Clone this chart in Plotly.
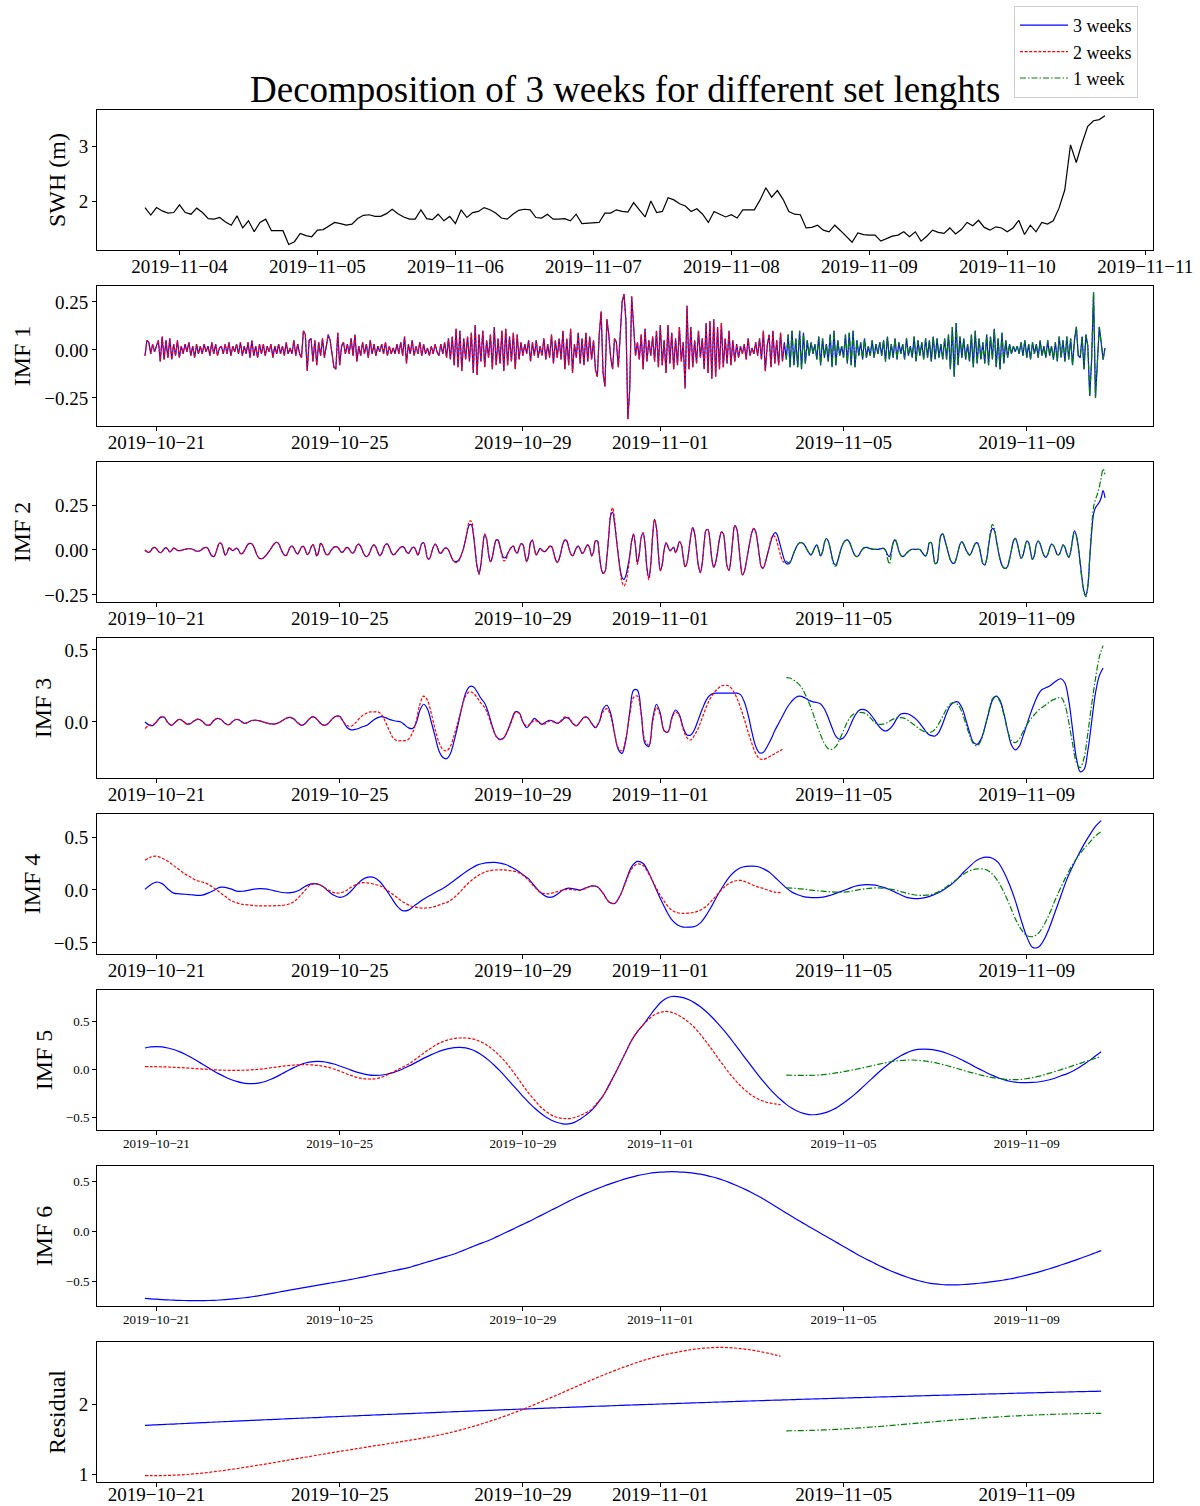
import pandas as pd
import plotly.graph_objects as go
from plotly.subplots import make_subplots

START_3W = "2019-10-20 18:00"
START_1W = "2019-11-03 18:00"

# ---------------- data ----------------
swh_1w = [
    1.88, 1.745, 1.88, 1.82, 1.78, 1.79, 1.93, 1.79, 1.76, 1.87, 1.79, 1.68,
    1.67, 1.70, 1.62, 1.56, 1.73, 1.51, 1.64, 1.44, 1.61, 1.67, 1.46, 1.46,
    1.46, 1.21, 1.26, 1.41, 1.37, 1.35, 1.47, 1.48, 1.55, 1.61, 1.59, 1.56,
    1.58, 1.68, 1.74, 1.75, 1.72, 1.72, 1.77, 1.85, 1.77, 1.71, 1.67, 1.67,
    1.84, 1.68, 1.66, 1.76, 1.64, 1.72, 1.59, 1.84, 1.70, 1.79, 1.81, 1.88,
    1.84, 1.78, 1.69, 1.67, 1.76, 1.83, 1.85, 1.84, 1.70, 1.69, 1.76, 1.67,
    1.67, 1.68, 1.64, 1.76, 1.59, 1.60, 1.61, 1.61, 1.78, 1.78, 1.84, 1.81,
    1.80, 1.97, 1.84, 1.71, 2.00, 1.79, 1.81, 2.06, 2.02, 1.95, 1.91, 1.81,
    1.86, 1.76, 1.61, 1.81, 1.76, 1.71, 1.75, 1.69, 1.84, 1.84, 1.84, 2.02,
    2.24, 2.07, 2.19, 2.03, 1.81, 1.76, 1.75, 1.51, 1.52, 1.56, 1.47, 1.44,
    1.56, 1.46, 1.36, 1.25, 1.42, 1.39, 1.38, 1.38, 1.27, 1.32, 1.36, 1.38,
    1.44, 1.35, 1.44, 1.27, 1.36, 1.47, 1.43, 1.41, 1.51, 1.40, 1.48, 1.61,
    1.55, 1.65, 1.52, 1.47, 1.53, 1.51, 1.44, 1.51, 1.65, 1.39, 1.56, 1.44,
    1.61, 1.58, 1.64, 1.87, 2.20, 3.02, 2.70, 3.05, 3.36, 3.46, 3.48, 3.55,
]

# IMF 1, hourly
imf1_3w = [
    -0.03, 0.05, 0.04, -0.02, 0.03, -0.01, 0.02, 0.05, -0.06, 0.07, -0.05, 0.05,
    -0.04, 0.06, -0.05, 0.03, -0.03, 0.05, -0.04, 0.02, -0.02, 0.03, -0.01, 0.04,
    -0.03, 0.02, -0.04, 0.03, -0.02, 0.02, -0.02, 0.03, -0.01, 0.02, -0.03, 0.04,
    -0.02, 0.03, -0.03, 0.01, 0.02, -0.02, 0.03, -0.02, 0.04, -0.03, 0.02, -0.01,
    0.03, -0.02, 0.04, -0.03, 0.02, -0.02, 0.04, -0.04, 0.05, -0.03, 0.02, -0.04,
    0.03, -0.02, 0.03, -0.03, 0.02, -0.01, 0.03, -0.04, 0.02, -0.02, 0.03, -0.02,
    0.02, -0.03, 0.04, -0.02, 0.01, -0.02, 0.05, -0.03, 0.03, -0.02, -0.04, 0.10,
    0.08, -0.11, 0.05, 0.06, -0.06, 0.05, -0.08, 0.04, -0.03, 0.06, -0.04, 0.03,
    0.08, 0.05, -0.03, -0.09, -0.10, 0.09, -0.08, 0.02, 0.04, -0.02, 0.03, -0.02,
    0.06, -0.03, 0.08, -0.06, 0.02, -0.03, 0.04, -0.02, 0.03, -0.04, 0.05, -0.02,
    0.03, -0.03, 0.02, -0.01, 0.03, -0.02, 0.04, -0.03, 0.02, -0.02, 0.01, -0.02,
    0.03, -0.02, 0.04, -0.03, 0.07, -0.07, 0.03, -0.02, 0.05, -0.03, 0.02, -0.02,
    0.04, -0.03, 0.03, -0.02, 0.01, -0.03, 0.02, -0.02, 0.03, -0.01, -0.03, 0.03,
    -0.02, 0.04, -0.04, 0.06, -0.05, 0.07, -0.08, 0.11, -0.09, 0.10, -0.11, 0.06,
    -0.05, 0.07, -0.06, 0.09, -0.12, 0.13, -0.13, 0.08, -0.06, 0.10, -0.09, 0.05,
    -0.04, 0.08, -0.10, 0.12, -0.08, 0.06, -0.07, 0.10, -0.11, 0.11, -0.08, 0.07,
    -0.06, 0.09, -0.10, 0.08, -0.05, 0.04, -0.03, 0.03, -0.02, 0.05, -0.06, 0.04,
    -0.03, 0.05, -0.04, 0.02, -0.03, 0.06, -0.05, 0.03, -0.04, 0.08, -0.07, 0.05,
    -0.04, 0.06, -0.05, 0.10, -0.10, 0.06, -0.08, 0.11, -0.12, 0.03, -0.04, 0.09,
    -0.07, 0.06, -0.08, 0.09, -0.06, 0.07, -0.05, 0.05, -0.10, -0.14, 0.08, 0.20,
    -0.12, -0.19, 0.16, 0.08, -0.04, -0.10, 0.06, 0.04, -0.09, 0.10, 0.25, 0.29,
    0.15, -0.36, -0.20, 0.28, 0.12, -0.03, 0.04, -0.05, 0.08, -0.10, 0.11, -0.06,
    0.05, -0.03, 0.07, -0.06, 0.10, -0.09, 0.13, -0.08, 0.05, -0.12, 0.13, -0.07,
    0.09, -0.10, 0.06, -0.08, 0.12, -0.06, 0.04, -0.20, 0.23, -0.10, 0.12, -0.09,
    0.05, -0.07, 0.10, -0.04, 0.06, -0.10, 0.14, -0.12, 0.15, -0.15, 0.16, -0.14,
    0.12, -0.10, 0.14, -0.09, 0.06, -0.07, 0.10, -0.08, 0.05, -0.06, 0.03, -0.04,
    0.02, -0.02, 0.03, -0.05, 0.06, -0.03, 0.01, -0.02, 0.04, -0.03, 0.06, -0.05,
    0.10, -0.11, 0.02, 0.08, -0.09, 0.10, -0.07, 0.05, -0.08, 0.09, -0.06, 0.04,
    -0.05, 0.08, -0.09, 0.10, -0.08, 0.06, -0.09, 0.10, -0.10, 0.09, -0.07, 0.05,
    -0.03, 0.04, -0.02, 0.03, -0.05, 0.07, -0.08, 0.06, -0.04, 0.03, -0.06, 0.08,
    -0.09, 0.10, -0.08, 0.05, -0.03, 0.02, -0.04, 0.08, -0.07, 0.09, -0.08, 0.10,
    -0.09, 0.05, -0.03, 0.04, -0.05, 0.06, -0.04, 0.02, -0.03, 0.05, -0.04, 0.03,
    -0.02, 0.04, -0.03, 0.05, -0.06, 0.07, -0.05, 0.03, -0.04, 0.06, -0.05, 0.04,
    -0.02, 0.03, -0.05, 0.06, -0.03, 0.02, -0.04, 0.07, -0.06, 0.05, -0.03, 0.04,
    -0.05, 0.06, -0.04, 0.05, -0.06, 0.07, -0.05, 0.06, -0.04, 0.03, -0.05, 0.06,
    -0.05, 0.08, -0.10, 0.12, -0.14, 0.14, -0.08, 0.07, -0.04, 0.06, -0.05, 0.03,
    -0.06, 0.08, -0.09, 0.10, -0.07, 0.06, -0.05, 0.04, -0.07, 0.08, -0.08, 0.07,
    -0.05, 0.11, -0.09, 0.06, -0.10, 0.09, -0.07, 0.05, -0.04, 0.03, -0.02, 0.02,
    -0.01, 0.02, -0.02, 0.04, -0.03, 0.05, -0.04, 0.03, -0.05, 0.04, -0.02, 0.03,
    -0.04, 0.05, -0.03, 0.02, -0.04, 0.05, -0.03, 0.02, -0.05, 0.04, -0.06, 0.07,
    -0.04, 0.05, -0.06, 0.07, -0.05, 0.06, -0.08, 0.05, 0.12, -0.03, -0.04, 0.07,
    -0.10, 0.08, 0.02, -0.24, -0.05, 0.30, -0.25, -0.08, 0.12, 0.04, -0.05, 0.01,
]
imf1_2w = [
    -0.03, 0.05, 0.04, -0.02, 0.03, -0.01, 0.02, 0.05, -0.06, 0.07, -0.05, 0.05,
    -0.04, 0.06, -0.05, 0.03, -0.03, 0.05, -0.04, 0.02, -0.02, 0.03, -0.01, 0.04,
    -0.03, 0.02, -0.04, 0.03, -0.02, 0.02, -0.02, 0.03, -0.01, 0.02, -0.03, 0.04,
    -0.02, 0.03, -0.03, 0.01, 0.02, -0.02, 0.03, -0.02, 0.04, -0.03, 0.02, -0.01,
    0.03, -0.02, 0.04, -0.03, 0.02, -0.02, 0.04, -0.04, 0.05, -0.03, 0.02, -0.04,
    0.03, -0.02, 0.03, -0.03, 0.02, -0.01, 0.03, -0.04, 0.02, -0.02, 0.03, -0.02,
    0.02, -0.03, 0.04, -0.02, 0.01, -0.02, 0.05, -0.03, 0.03, -0.02, -0.04, 0.10,
    0.08, -0.11, 0.05, 0.06, -0.06, 0.05, -0.08, 0.04, -0.03, 0.06, -0.04, 0.03,
    0.08, 0.05, -0.03, -0.09, -0.10, 0.09, -0.08, 0.02, 0.04, -0.02, 0.03, -0.02,
    0.06, -0.03, 0.08, -0.06, 0.02, -0.03, 0.04, -0.02, 0.03, -0.04, 0.05, -0.02,
    0.03, -0.03, 0.02, -0.01, 0.03, -0.02, 0.04, -0.03, 0.02, -0.02, 0.01, -0.02,
    0.03, -0.02, 0.04, -0.03, 0.07, -0.07, 0.03, -0.02, 0.05, -0.03, 0.02, -0.02,
    0.04, -0.03, 0.03, -0.02, 0.01, -0.03, 0.02, -0.02, 0.03, -0.01, -0.03, 0.03,
    -0.02, 0.04, -0.04, 0.06, -0.05, 0.07, -0.08, 0.11, -0.09, 0.10, -0.11, 0.06,
    -0.05, 0.07, -0.06, 0.09, -0.12, 0.13, -0.13, 0.08, -0.06, 0.10, -0.09, 0.05,
    -0.04, 0.08, -0.10, 0.12, -0.08, 0.06, -0.07, 0.10, -0.11, 0.11, -0.08, 0.07,
    -0.06, 0.09, -0.10, 0.08, -0.05, 0.04, -0.03, 0.03, -0.02, 0.05, -0.06, 0.04,
    -0.03, 0.05, -0.04, 0.02, -0.03, 0.06, -0.05, 0.03, -0.04, 0.08, -0.07, 0.05,
    -0.04, 0.06, -0.05, 0.10, -0.10, 0.06, -0.08, 0.11, -0.12, 0.03, -0.04, 0.09,
    -0.07, 0.06, -0.08, 0.09, -0.06, 0.07, -0.05, 0.05, -0.10, -0.14, 0.08, 0.20,
    -0.12, -0.19, 0.16, 0.08, -0.04, -0.10, 0.06, 0.04, -0.09, 0.10, 0.25, 0.29,
    0.15, -0.36, -0.20, 0.28, 0.12, -0.03, 0.04, -0.05, 0.08, -0.10, 0.11, -0.06,
    0.05, -0.03, 0.07, -0.06, 0.10, -0.09, 0.13, -0.08, 0.05, -0.12, 0.13, -0.07,
    0.09, -0.10, 0.06, -0.08, 0.12, -0.06, 0.04, -0.20, 0.23, -0.10, 0.12, -0.09,
    0.05, -0.07, 0.10, -0.04, 0.06, -0.10, 0.14, -0.12, 0.15, -0.15, 0.16, -0.14,
    0.12, -0.10, 0.14, -0.09, 0.06, -0.07, 0.10, -0.08, 0.05, -0.06, 0.03, -0.04,
    0.02, -0.02, 0.03, -0.05, 0.06, -0.03, 0.01, -0.02, 0.04, -0.03, 0.06, -0.05,
    0.10, -0.11, 0.02, 0.08, -0.09, 0.10, -0.07, 0.05, -0.08, 0.09, -0.06, 0.04,
]
imf1_1w = [
    -0.05, 0.08, -0.09, 0.10, -0.08, 0.06, -0.09, 0.10, -0.10, 0.09, -0.07, 0.05,
    -0.03, 0.04, -0.02, 0.03, -0.05, 0.07, -0.08, 0.06, -0.04, 0.03, -0.06, 0.08,
    -0.09, 0.10, -0.08, 0.05, -0.03, 0.02, -0.04, 0.08, -0.07, 0.09, -0.08, 0.10,
    -0.09, 0.05, -0.03, 0.04, -0.05, 0.06, -0.04, 0.02, -0.03, 0.05, -0.04, 0.03,
    -0.02, 0.04, -0.03, 0.05, -0.06, 0.07, -0.05, 0.03, -0.04, 0.06, -0.05, 0.04,
    -0.02, 0.03, -0.05, 0.06, -0.03, 0.02, -0.04, 0.07, -0.06, 0.05, -0.03, 0.04,
    -0.05, 0.06, -0.04, 0.05, -0.06, 0.07, -0.05, 0.06, -0.04, 0.03, -0.05, 0.06,
    -0.05, 0.08, -0.10, 0.12, -0.14, 0.14, -0.08, 0.07, -0.04, 0.06, -0.05, 0.03,
    -0.06, 0.08, -0.09, 0.10, -0.07, 0.06, -0.05, 0.04, -0.07, 0.08, -0.08, 0.07,
    -0.05, 0.11, -0.09, 0.06, -0.10, 0.09, -0.07, 0.05, -0.04, 0.03, -0.02, 0.02,
    -0.01, 0.02, -0.02, 0.04, -0.03, 0.05, -0.04, 0.03, -0.05, 0.04, -0.02, 0.03,
    -0.04, 0.05, -0.03, 0.02, -0.04, 0.05, -0.03, 0.02, -0.05, 0.04, -0.06, 0.07,
    -0.04, 0.05, -0.06, 0.07, -0.05, 0.06, -0.08, 0.05, 0.12, -0.03, -0.04, 0.07,
    -0.10, 0.08, 0.02, -0.24, -0.05, 0.30, -0.25, -0.08, 0.12, 0.04, -0.05, 0.01,
]

# IMF 2, hourly
imf2_3w = [
    0.0, -0.01, -0.013, -0.005, 0.01, 0.015, 0.008, -0.008, -0.015, -0.008, 0.006, 0.013,
    0.003, -0.01, -0.002, 0.01, 0.006, -0.002, -0.004, -0.002, 0.001, 0.004, 0.006, 0.007,
    0.007, 0.004, -0.002, -0.006, -0.007, -0.003, 0.005, 0.012, 0.015, 0.008, -0.015, -0.032,
    -0.037, -0.02, 0.015, 0.038, 0.036, 0.005, -0.028, -0.015, 0.012, 0.005, -0.004, 0.004,
    0.01, 0.0, -0.02, -0.02, -0.005, 0.015, 0.032, 0.037, 0.034, 0.018, -0.01, -0.035,
    -0.047, -0.048, -0.044, -0.035, -0.022, -0.008, 0.008, 0.025, 0.038, 0.043, 0.035, 0.012,
    -0.012, -0.028, -0.031, -0.01, 0.014, 0.022, 0.01, -0.012, -0.022, -0.005, 0.016, 0.02,
    0.0, -0.026, -0.015, 0.015, 0.03, 0.005, -0.033, -0.01, 0.037, 0.025, -0.005, -0.025,
    -0.026, -0.01, 0.005, 0.016, 0.019, 0.015, 0.0, -0.013, -0.008, 0.008, 0.015, 0.005,
    -0.012, -0.018, -0.002, 0.025, 0.033, 0.02, -0.005, -0.028, -0.037, -0.03, -0.008, 0.018,
    0.028, 0.015, -0.012, -0.031, -0.02, 0.01, 0.03, 0.033, 0.015, -0.012, -0.026, -0.022,
    -0.008, 0.005, 0.015, 0.019, 0.01, -0.01, -0.019, -0.005, 0.012, 0.015, -0.005, -0.028,
    0.0, 0.035, 0.04, 0.005, -0.045, -0.05, -0.02, 0.015, 0.033, 0.02, -0.01, -0.019,
    -0.005, 0.01, 0.011, 0.0, -0.025, -0.05, -0.063, -0.065, -0.06, -0.045, -0.02, 0.015,
    0.06, 0.11, 0.14, 0.14, 0.09, 0.0, -0.09, -0.13, -0.08, 0.02, 0.085, 0.06,
    -0.02, -0.065, -0.04, 0.02, 0.055, 0.055, 0.02, -0.02, -0.043, -0.04, -0.02, 0.0,
    0.015, 0.022, -0.005, -0.018, 0.01, 0.035, 0.03, -0.02, -0.065, -0.03, 0.04, 0.055,
    0.01, -0.028, -0.01, 0.009, 0.0, -0.009, -0.005, 0.008, 0.02, 0.02, -0.01, -0.05,
    -0.07, -0.05, -0.01, 0.035, 0.056, 0.05, 0.015, -0.02, -0.033, -0.015, 0.012, 0.022,
    0.005, -0.019, -0.01, 0.015, 0.028, 0.01, -0.033, -0.01, 0.05, 0.05, -0.02, -0.1,
    -0.13, -0.12, -0.04, 0.08, 0.19, 0.21, 0.15, 0.06, -0.03, -0.11, -0.155, -0.163,
    -0.14, -0.09, -0.03, 0.05, 0.089, 0.02, -0.07, -0.02, 0.07, 0.095, 0.03, -0.1,
    -0.155, -0.08, 0.08, 0.17, 0.12, -0.02, -0.115, -0.08, 0.0, 0.04, 0.02, -0.004,
    0.005, 0.015, -0.015, 0.01, 0.046, 0.03, -0.04, -0.093, -0.07, 0.0, 0.08, 0.124,
    0.09, 0.0, -0.09, -0.126, -0.07, 0.04, 0.11, 0.113, 0.05, -0.05, -0.096, -0.07,
    -0.01, 0.06, 0.1, 0.09, 0.01, -0.09, -0.113, -0.05, 0.06, 0.135, 0.12, 0.04,
    -0.07, -0.139, -0.12, -0.07, -0.01, 0.05, 0.1, 0.12, 0.1, 0.04, -0.04, -0.095,
    -0.1, -0.07, -0.03, 0.01, 0.05, 0.08, 0.096, 0.09, 0.06, 0.02, -0.02, -0.055,
    -0.075, -0.078, -0.07, -0.045, -0.015, 0.01, 0.03, 0.04, 0.041, 0.035, 0.02, 0.0,
    -0.018, -0.028, -0.01, 0.015, 0.028, 0.0, -0.033, -0.01, 0.04, 0.064, 0.05, 0.01,
    -0.04, -0.075, -0.083, -0.06, -0.02, 0.015, 0.04, 0.053, 0.056, 0.045, 0.02, -0.01,
    -0.03, -0.037, -0.03, -0.01, 0.005, 0.013, 0.015, 0.012, 0.008, 0.005, 0.004, 0.004,
    0.004, 0.006, 0.008, 0.009, 0.0, -0.025, -0.037, -0.01, 0.04, 0.056, 0.035, -0.005,
    -0.03, -0.037, -0.03, -0.018, -0.008, 0.0, 0.004, 0.004, 0.004, 0.004, 0.003, -0.01,
    -0.025, -0.033, -0.01, 0.04, 0.04, -0.02, -0.075, -0.07, 0.01, 0.08, 0.09, 0.06,
    0.02, -0.02, -0.055, -0.072, -0.074, -0.05, -0.01, 0.03, 0.046, 0.03, 0.005, -0.015,
    -0.028, -0.015, 0.012, 0.035, 0.041, 0.02, -0.03, -0.075, -0.083, -0.05, 0.02, 0.09,
    0.12, 0.11, 0.06, 0.0, -0.05, -0.085, -0.1, -0.102, -0.09, -0.05, 0.0, 0.05,
    0.065, 0.04, -0.01, -0.046, -0.03, 0.015, 0.05, 0.04, -0.01, -0.052, -0.03, 0.03,
    0.05, 0.035, 0.0, -0.03, -0.041, -0.025, 0.01, 0.033, 0.025, 0.0, -0.025, -0.025,
    0.0, 0.028, 0.015, -0.02, -0.041, -0.01, 0.06, 0.107, 0.08, 0.02, -0.07, -0.16,
    -0.23, -0.25, -0.2, -0.05, 0.1, 0.2, 0.235, 0.25, 0.265, 0.29, 0.33, 0.29,
]
imf2_2w = [
    0.0, -0.01, -0.013, -0.005, 0.01, 0.015, 0.008, -0.008, -0.015, -0.008, 0.006, 0.013,
    0.003, -0.01, -0.002, 0.01, 0.006, -0.002, -0.004, -0.002, 0.001, 0.004, 0.006, 0.007,
    0.007, 0.004, -0.002, -0.006, -0.007, -0.003, 0.005, 0.012, 0.015, 0.008, -0.015, -0.032,
    -0.037, -0.02, 0.015, 0.038, 0.036, 0.005, -0.028, -0.015, 0.012, 0.005, -0.004, 0.004,
    0.01, 0.0, -0.02, -0.02, -0.005, 0.015, 0.032, 0.037, 0.034, 0.018, -0.01, -0.035,
    -0.047, -0.048, -0.044, -0.035, -0.022, -0.008, 0.008, 0.025, 0.038, 0.043, 0.035, 0.012,
    -0.012, -0.028, -0.031, -0.01, 0.014, 0.022, 0.01, -0.012, -0.022, -0.005, 0.016, 0.02,
    0.0, -0.026, -0.015, 0.015, 0.03, 0.005, -0.033, -0.01, 0.037, 0.025, -0.005, -0.025,
    -0.026, -0.01, 0.005, 0.016, 0.019, 0.015, 0.0, -0.013, -0.008, 0.008, 0.015, 0.005,
    -0.012, -0.018, -0.002, 0.025, 0.033, 0.02, -0.005, -0.028, -0.037, -0.03, -0.008, 0.018,
    0.028, 0.015, -0.012, -0.031, -0.02, 0.01, 0.03, 0.033, 0.015, -0.012, -0.026, -0.022,
    -0.008, 0.005, 0.015, 0.019, 0.01, -0.01, -0.019, -0.005, 0.012, 0.015, -0.005, -0.028,
    0.0, 0.035, 0.04, 0.005, -0.045, -0.05, -0.02, 0.015, 0.033, 0.02, -0.01, -0.019,
    -0.005, 0.01, 0.011, 0.0, -0.025, -0.05, -0.065, -0.07, -0.065, -0.05, -0.02, 0.015,
    0.06, 0.12, 0.16, 0.16, 0.1, 0.0, -0.095, -0.135, -0.08, 0.02, 0.09, 0.06,
    -0.02, -0.065, -0.04, 0.02, 0.055, 0.05, 0.015, -0.03, -0.06, -0.055, -0.025, 0.0,
    0.015, 0.022, -0.005, -0.018, 0.01, 0.035, 0.03, -0.02, -0.065, -0.03, 0.04, 0.055,
    0.01, -0.028, -0.01, 0.009, 0.0, -0.009, -0.005, 0.008, 0.02, 0.02, -0.01, -0.05,
    -0.07, -0.05, -0.01, 0.035, 0.056, 0.05, 0.015, -0.02, -0.033, -0.015, 0.012, 0.022,
    0.005, -0.019, -0.01, 0.015, 0.028, 0.01, -0.033, -0.01, 0.05, 0.05, -0.02, -0.1,
    -0.13, -0.12, -0.04, 0.08, 0.2, 0.235, 0.17, 0.07, -0.03, -0.12, -0.18, -0.2,
    -0.18, -0.12, -0.04, 0.05, 0.089, 0.02, -0.08, -0.02, 0.07, 0.095, 0.03, -0.11,
    -0.165, -0.08, 0.08, 0.17, 0.12, -0.02, -0.115, -0.08, 0.0, 0.04, 0.02, -0.004,
    0.005, 0.015, -0.015, 0.01, 0.046, 0.03, -0.04, -0.093, -0.07, 0.0, 0.08, 0.124,
    0.09, 0.0, -0.09, -0.126, -0.07, 0.04, 0.11, 0.113, 0.05, -0.05, -0.096, -0.07,
    -0.01, 0.06, 0.1, 0.09, 0.01, -0.09, -0.113, -0.05, 0.06, 0.135, 0.12, 0.04,
    -0.07, -0.139, -0.12, -0.07, -0.01, 0.05, 0.1, 0.12, 0.1, 0.04, -0.04, -0.095,
    -0.1, -0.07, -0.03, 0.01, 0.06, 0.08, 0.075, 0.05, 0.01, -0.03, -0.06, -0.07,
]
imf2_1w = [
    -0.06, -0.07, -0.065, -0.045, -0.015, 0.01, 0.03, 0.04, 0.041, 0.035, 0.02, 0.0,
    -0.018, -0.028, -0.01, 0.015, 0.028, 0.0, -0.033, -0.01, 0.04, 0.064, 0.05, 0.01,
    -0.045, -0.085, -0.09, -0.06, -0.02, 0.015, 0.04, 0.053, 0.056, 0.045, 0.02, -0.01,
    -0.03, -0.037, -0.03, -0.01, 0.005, 0.013, 0.015, 0.012, 0.008, 0.005, 0.004, 0.004,
    0.004, 0.006, 0.008, 0.009, -0.005, -0.045, -0.078, -0.03, 0.04, 0.06, 0.035, -0.005,
    -0.03, -0.037, -0.03, -0.018, -0.008, 0.0, 0.004, 0.004, 0.004, 0.004, 0.003, -0.01,
    -0.025, -0.033, -0.01, 0.04, 0.04, -0.02, -0.075, -0.07, 0.01, 0.08, 0.09, 0.06,
    0.02, -0.02, -0.055, -0.072, -0.074, -0.05, -0.01, 0.03, 0.046, 0.03, 0.005, -0.015,
    -0.028, -0.015, 0.012, 0.035, 0.041, 0.02, -0.03, -0.075, -0.083, -0.05, 0.03, 0.1,
    0.143, 0.12, 0.06, 0.0, -0.05, -0.085, -0.1, -0.102, -0.09, -0.05, 0.0, 0.05,
    0.065, 0.04, -0.01, -0.046, -0.03, 0.015, 0.05, 0.04, -0.01, -0.052, -0.03, 0.03,
    0.05, 0.035, 0.0, -0.03, -0.041, -0.025, 0.01, 0.033, 0.025, 0.0, -0.025, -0.025,
    0.0, 0.028, 0.015, -0.02, -0.041, -0.01, 0.055, 0.1, 0.075, 0.01, -0.08, -0.17,
    -0.24, -0.26, -0.2, -0.04, 0.12, 0.24, 0.28, 0.31, 0.35, 0.4, 0.45, 0.42,
]

# IMF 3, every 2 hours
imf3_3w = [
    0.0, -0.02, -0.025, 0.0, 0.03, 0.033, -0.005, -0.023, 0.0, 0.019, 0.005, -0.015,
    -0.01, 0.01, 0.019, 0.005, -0.02, -0.02, 0.01, 0.025, 0.015, -0.01, -0.019, 0.005,
    0.019, 0.008, -0.009, -0.002, 0.01, 0.012, 0.008, 0.0, -0.008, -0.013, -0.014, -0.005,
    0.01, 0.026, 0.032, 0.02, -0.005, -0.023, -0.01, 0.02, 0.037, 0.02, -0.01, -0.023,
    -0.01, 0.02, 0.04, 0.04, 0.0, -0.04, -0.055, -0.052, -0.045, -0.033, -0.025, -0.005,
    0.015, 0.03, 0.037, 0.03, 0.018, 0.01, 0.005, 0.0, -0.02, -0.04, -0.046, -0.01,
    0.08, 0.123, 0.09, 0.0, -0.1, -0.2, -0.245, -0.255, -0.22, -0.13, -0.02, 0.1,
    0.2, 0.245, 0.245, 0.21, 0.165, 0.13, 0.06, -0.03, -0.1, -0.12, -0.11, -0.06,
    0.01, 0.07, 0.065, 0.0, -0.04, -0.01, 0.025, 0.005, -0.016, 0.0, 0.012, 0.005,
    -0.009, 0.005, 0.028, 0.025, -0.01, -0.028, 0.0, 0.033, 0.03, -0.01, -0.04, 0.0,
    0.09, 0.116, 0.06, -0.08, -0.19, -0.218, -0.12, 0.07, 0.22, 0.22, 0.06, -0.15,
    -0.17, 0.02, 0.123, 0.06, -0.06, -0.07, 0.03, 0.083, 0.05, -0.04, -0.09, -0.09,
    -0.05, 0.02, 0.09, 0.15, 0.185, 0.198, 0.2, 0.2, 0.2, 0.2, 0.2, 0.2,
    0.19, 0.14, 0.05, -0.07, -0.17, -0.215, -0.21, -0.17, -0.12, -0.06, -0.01, 0.04,
    0.09, 0.13, 0.16, 0.178, 0.178, 0.165, 0.15, 0.14, 0.135, 0.125, 0.09, 0.03,
    -0.04, -0.1, -0.12, -0.11, -0.07, -0.01, 0.045, 0.08, 0.088, 0.08, 0.055, 0.02,
    -0.02, -0.05, -0.063, -0.05, -0.02, 0.025, 0.055, 0.06, 0.055, 0.04, 0.02, -0.01,
    -0.045, -0.08, -0.095, -0.097, -0.07, -0.01, 0.06, 0.115, 0.137, 0.139, 0.1, 0.02,
    -0.07, -0.14, -0.155, -0.12, -0.04, 0.06, 0.15, 0.18, 0.15, 0.06, -0.06, -0.16,
    -0.194, -0.17, -0.1, -0.02, 0.06, 0.13, 0.19, 0.225, 0.238, 0.25, 0.27, 0.29,
    0.3, 0.27, 0.15, -0.05, -0.25, -0.345, -0.33, -0.2, 0.0, 0.2, 0.32, 0.375,
]
imf3_2w = [
    -0.046, -0.025, -0.02, 0.0, 0.035, 0.035, -0.005, -0.023, 0.0, 0.019, 0.005, -0.015,
    -0.01, 0.01, 0.019, 0.005, -0.02, -0.02, 0.01, 0.025, 0.015, -0.01, -0.019, 0.005,
    0.019, 0.008, -0.009, -0.002, 0.01, 0.012, 0.008, 0.0, -0.008, -0.013, -0.014, -0.005,
    0.01, 0.026, 0.032, 0.02, -0.005, -0.023, -0.01, 0.02, 0.037, 0.02, -0.01, -0.023,
    -0.01, 0.02, 0.04, 0.035, 0.0, -0.025, -0.03, -0.01, 0.02, 0.045, 0.06, 0.07,
    0.07, 0.07, 0.05, 0.0, -0.06, -0.11, -0.13, -0.13, -0.13, -0.12, -0.08, 0.0,
    0.12, 0.18, 0.15, 0.06, -0.05, -0.14, -0.19, -0.2, -0.17, -0.09, 0.0, 0.1,
    0.18, 0.21, 0.2, 0.17, 0.13, 0.1, 0.04, -0.04, -0.1, -0.125, -0.11, -0.06,
    0.0, 0.065, 0.06, 0.0, -0.028, -0.01, 0.01, 0.0, -0.018, -0.01, 0.005, 0.0,
    -0.01, 0.01, 0.035, 0.03, -0.005, -0.025, 0.0, 0.03, 0.028, -0.01, -0.035, 0.0,
    0.07, 0.093, 0.04, -0.08, -0.18, -0.2, -0.11, 0.05, 0.17, 0.18, 0.05, -0.13,
    -0.16, 0.0, 0.1, 0.05, -0.06, -0.07, 0.02, 0.07, 0.04, -0.05, -0.11, -0.125,
    -0.09, -0.04, 0.03, 0.1, 0.16, 0.2, 0.23, 0.25, 0.255, 0.25, 0.22, 0.17,
    0.1, 0.02, -0.07, -0.15, -0.22, -0.255, -0.26, -0.25, -0.235, -0.22, -0.205, -0.19,
]
imf3_1w = [
    0.308, 0.305, 0.29, 0.27, 0.24, 0.19, 0.13, 0.06, -0.02, -0.09, -0.15, -0.185,
    -0.19, -0.17, -0.12, -0.06, 0.0, 0.04, 0.06, 0.065, 0.065, 0.055, 0.03, 0.0,
    -0.015, -0.016, -0.01, 0.005, 0.02, 0.028, 0.03, 0.025, 0.01, -0.01, -0.03, -0.05,
    -0.065, -0.074, -0.07, -0.05, -0.01, 0.04, 0.09, 0.125, 0.134, 0.12, 0.07, -0.01,
    -0.09, -0.15, -0.167, -0.13, -0.04, 0.07, 0.16, 0.18, 0.14, 0.05, -0.06, -0.13,
    -0.143, -0.12, -0.07, -0.02, 0.02, 0.05, 0.08, 0.1, 0.12, 0.14, 0.155, 0.165,
    0.17, 0.12, 0.0, -0.15, -0.28, -0.317, -0.25, -0.08, 0.12, 0.3, 0.45, 0.53,
]

# IMF 4, every 3 hours
imf4_3w = [
    0.006, 0.05, 0.075, 0.06, 0.01, -0.03, -0.036, -0.04, -0.045, -0.05, -0.048, -0.03,
    -0.005, 0.025, 0.025, 0.01, -0.01, -0.012, -0.003, 0.008, 0.013, 0.01, 0.0, -0.012,
    -0.024, -0.028, -0.02, 0.0, 0.035, 0.058, 0.058, 0.035, -0.01, -0.05, -0.07, -0.055,
    -0.01, 0.05, 0.1, 0.122, 0.118, 0.08, 0.01, -0.07, -0.15, -0.195, -0.19, -0.15,
    -0.11, -0.075, -0.045, -0.015, 0.015, 0.05, 0.09, 0.13, 0.17, 0.205, 0.235, 0.25,
    0.258, 0.26, 0.253, 0.24, 0.215, 0.185, 0.145, 0.105, 0.04, -0.02, -0.06, -0.068,
    -0.04, 0.0, 0.018, 0.01, 0.0, 0.02, 0.038, 0.03, -0.03, -0.11, -0.128, -0.05,
    0.09, 0.22, 0.27, 0.25, 0.16, 0.04, -0.08, -0.19, -0.28, -0.33, -0.35, -0.35,
    -0.345, -0.31, -0.24, -0.15, -0.05, 0.04, 0.12, 0.175, 0.21, 0.223, 0.226, 0.222,
    0.2, 0.17, 0.12, 0.07, 0.02, -0.02, -0.045, -0.062, -0.07, -0.072, -0.07, -0.06,
    -0.045, -0.025, -0.005, 0.015, 0.035, 0.046, 0.05, 0.048, 0.04, 0.025, 0.005, -0.02,
    -0.045, -0.07, -0.08, -0.082, -0.075, -0.06, -0.04, -0.015, 0.02, 0.06, 0.11, 0.17,
    0.22, 0.27, 0.3, 0.31, 0.3, 0.26, 0.17, 0.05, -0.1, -0.28, -0.44, -0.54,
    -0.54, -0.47, -0.35, -0.2, -0.05, 0.1, 0.22, 0.33, 0.43, 0.52, 0.6, 0.655,
]
imf4_2w = [
    0.28, 0.31, 0.32, 0.3, 0.27, 0.23, 0.19, 0.15, 0.12, 0.09, 0.075, 0.055,
    0.02, -0.02, -0.06, -0.1, -0.12, -0.135, -0.14, -0.148, -0.15, -0.15, -0.15, -0.148,
    -0.145, -0.135, -0.11, -0.06, 0.0, 0.05, 0.058, 0.035, 0.0, -0.025, -0.028, -0.01,
    0.025, 0.055, 0.07, 0.065, 0.055, 0.04, 0.01, -0.03, -0.07, -0.11, -0.14, -0.16,
    -0.17, -0.17, -0.165, -0.15, -0.13, -0.11, -0.07, -0.02, 0.04, 0.09, 0.13, 0.16,
    0.18, 0.188, 0.19, 0.188, 0.18, 0.17, 0.14, 0.09, 0.03, -0.02, -0.036, -0.03,
    -0.015, 0.0, 0.006, 0.0, -0.003, 0.015, 0.036, 0.03, -0.03, -0.11, -0.125, -0.05,
    0.08, 0.2, 0.245, 0.23, 0.15, 0.05, -0.05, -0.13, -0.19, -0.215, -0.22, -0.218,
    -0.21, -0.19, -0.155, -0.1, -0.04, 0.02, 0.06, 0.085, 0.09, 0.075, 0.05, 0.03,
    0.015, -0.005, -0.02, -0.025,
]
imf4_1w = [
    0.02, 0.018, 0.013, 0.008, 0.002, -0.005, -0.01, -0.015, -0.018, -0.02, -0.02, -0.015,
    -0.005, 0.005, 0.013, 0.018, 0.02, 0.018, 0.01, 0.0, -0.015, -0.03, -0.042, -0.05,
    -0.05, -0.045, -0.03, -0.005, 0.03, 0.07, 0.11, 0.15, 0.18, 0.197, 0.2, 0.19,
    0.15, 0.08, -0.02, -0.14, -0.27, -0.37, -0.43, -0.44, -0.41, -0.33, -0.22, -0.09,
    0.03, 0.14, 0.24, 0.32, 0.39, 0.45, 0.51, 0.55,
]

# IMF 5, every 3 hours
imf5_3w = [
    0.219, 0.23, 0.233, 0.23, 0.219, 0.203, 0.181, 0.153, 0.122, 0.088, 0.052, 0.016,
    -0.02, -0.053, -0.083, -0.109, -0.129, -0.144, -0.151, -0.152, -0.145, -0.13, -0.107, -0.079,
    -0.047, -0.015, 0.015, 0.042, 0.063, 0.075, 0.08, 0.077, 0.067, 0.052, 0.032, 0.011,
    -0.011, -0.032, -0.048, -0.06, -0.066, -0.065, -0.057, -0.043, -0.023, 0.001, 0.029, 0.059,
    0.09, 0.121, 0.15, 0.175, 0.197, 0.213, 0.223, 0.226, 0.22, 0.204, 0.176, 0.139,
    0.093, 0.039, -0.02, -0.084, -0.151, -0.218, -0.284, -0.347, -0.404, -0.456, -0.499, -0.533,
    -0.557, -0.571, -0.572, -0.556, -0.522, -0.48, -0.43, -0.36, -0.28, -0.17, -0.06, 0.06,
    0.18, 0.3, 0.39, 0.46, 0.54, 0.62, 0.69, 0.735, 0.755, 0.755, 0.743, 0.721,
    0.689, 0.649, 0.599, 0.542, 0.479, 0.41, 0.337, 0.259, 0.18, 0.101, 0.022, -0.055,
    -0.129, -0.198, -0.261, -0.318, -0.368, -0.408, -0.44, -0.462, -0.474, -0.476, -0.468, -0.452,
    -0.427, -0.395, -0.355, -0.31, -0.261, -0.208, -0.152, -0.097, -0.042, 0.01, 0.058, 0.101,
    0.139, 0.168, 0.191, 0.204, 0.208, 0.205, 0.197, 0.183, 0.164, 0.141, 0.115, 0.085,
    0.054, 0.022, -0.009, -0.039, -0.066, -0.091, -0.111, -0.127, -0.137, -0.142, -0.142, -0.14,
    -0.135, -0.125, -0.112, -0.093, -0.07, -0.05, -0.024, 0.01, 0.05, 0.09, 0.135, 0.18,
]
imf5_2w = [
    0.024, 0.024, 0.024, 0.023, 0.021, 0.018, 0.015, 0.012, 0.008, 0.004, 0.0, -0.004,
    -0.008, -0.011, -0.013, -0.014, -0.014, -0.013, -0.011, -0.007, -0.002, 0.005, 0.013, 0.021,
    0.029, 0.036, 0.041, 0.044, 0.045, 0.044, 0.039, 0.03, 0.017, 0.0, -0.02, -0.045,
    -0.068, -0.087, -0.099, -0.104, -0.103, -0.092, -0.07, -0.04, -0.01, 0.02, 0.05, 0.09,
    0.135, 0.18, 0.22, 0.257, 0.285, 0.305, 0.318, 0.323, 0.323, 0.317, 0.3, 0.273,
    0.236, 0.19, 0.135, 0.07, -0.005, -0.085, -0.17, -0.25, -0.32, -0.39, -0.44, -0.48,
    -0.505, -0.515, -0.516, -0.505, -0.485, -0.455, -0.42, -0.35, -0.28, -0.18, -0.06, 0.06,
    0.18, 0.3, 0.39, 0.46, 0.52, 0.565, 0.59, 0.6, 0.59, 0.565, 0.53, 0.485,
    0.43, 0.36, 0.285, 0.205, 0.12, 0.04, -0.04, -0.11, -0.175, -0.23, -0.275, -0.31,
    -0.335, -0.352, -0.363, -0.37,
]
imf5_1w = [
    -0.063, -0.065, -0.066, -0.066, -0.066, -0.065, -0.061, -0.055, -0.047, -0.038, -0.028, -0.017,
    -0.005, 0.008, 0.021, 0.035, 0.048, 0.061, 0.073, 0.083, 0.089, 0.093, 0.094, 0.091,
    0.085, 0.077, 0.066, 0.052, 0.037, 0.02, 0.003, -0.015, -0.032, -0.048, -0.063, -0.077,
    -0.089, -0.099, -0.106, -0.11, -0.111, -0.108, -0.1, -0.09, -0.077, -0.061, -0.043, -0.025,
    -0.006, 0.013, 0.033, 0.053, 0.073, 0.093, 0.112, 0.13,
]

# IMF 6, every 3 hours (3-week set only)
imf6_3w = [
    -0.667, -0.672, -0.676, -0.68, -0.683, -0.686, -0.688, -0.689, -0.69, -0.69, -0.69, -0.689,
    -0.687, -0.684, -0.68, -0.675, -0.67, -0.664, -0.657, -0.649, -0.64, -0.63, -0.62, -0.609,
    -0.598, -0.588, -0.578, -0.568, -0.558, -0.548, -0.538, -0.528, -0.518, -0.508, -0.499, -0.488,
    -0.478, -0.466, -0.455, -0.443, -0.431, -0.42, -0.408, -0.396, -0.385, -0.373, -0.36, -0.343,
    -0.326, -0.309, -0.292, -0.275, -0.258, -0.241, -0.224, -0.201, -0.178, -0.155, -0.132, -0.11,
    -0.088, -0.063, -0.036, -0.009, 0.018, 0.046, 0.073, 0.1, 0.129, 0.158, 0.187, 0.216,
    0.245, 0.274, 0.303, 0.332, 0.358, 0.383, 0.407, 0.43, 0.452, 0.473, 0.493, 0.512,
    0.53, 0.546, 0.56, 0.572, 0.582, 0.59, 0.595, 0.598, 0.6, 0.599, 0.596, 0.591,
    0.584, 0.575, 0.563, 0.549, 0.533, 0.514, 0.493, 0.47, 0.445, 0.418, 0.389, 0.359,
    0.327, 0.292, 0.257, 0.221, 0.186, 0.151, 0.117, 0.083, 0.05, 0.017, -0.016, -0.049,
    -0.082, -0.115, -0.148, -0.181, -0.214, -0.247, -0.276, -0.304, -0.333, -0.36, -0.386, -0.41,
    -0.433, -0.454, -0.473, -0.489, -0.503, -0.515, -0.523, -0.529, -0.533, -0.533, -0.532, -0.529,
    -0.525, -0.52, -0.514, -0.508, -0.501, -0.493, -0.484, -0.474, -0.462, -0.449, -0.435, -0.42,
    -0.405, -0.388, -0.371, -0.353, -0.334, -0.315, -0.295, -0.275, -0.254, -0.233, -0.211, -0.19,
]

# Residual, every 3 hours
res_3w = [
    1.695, 1.699, 1.703, 1.707, 1.711, 1.714, 1.718, 1.722,
    1.726, 1.730, 1.734, 1.737, 1.741, 1.745, 1.749, 1.752,
    1.756, 1.760, 1.764, 1.767, 1.771, 1.775, 1.778, 1.782,
    1.786, 1.790, 1.793, 1.797, 1.800, 1.804, 1.807, 1.811,
    1.815, 1.818, 1.822, 1.825, 1.829, 1.832, 1.836, 1.839,
    1.843, 1.846, 1.850, 1.853, 1.856, 1.860, 1.863, 1.866,
    1.870, 1.873, 1.876, 1.880, 1.883, 1.886, 1.890, 1.893,
    1.896, 1.899, 1.903, 1.906, 1.909, 1.912, 1.915, 1.919,
    1.922, 1.925, 1.928, 1.931, 1.934, 1.937, 1.940, 1.944,
    1.947, 1.950, 1.953, 1.956, 1.959, 1.962, 1.965, 1.968,
    1.971, 1.974, 1.977, 1.980, 1.983, 1.986, 1.989, 1.991,
    1.994, 1.997, 2.000, 2.003, 2.006, 2.008, 2.011, 2.014,
    2.017, 2.020, 2.022, 2.025, 2.028, 2.031, 2.033, 2.036,
    2.039, 2.041, 2.044, 2.047, 2.049, 2.052, 2.055, 2.057,
    2.060, 2.062, 2.065, 2.068, 2.070, 2.073, 2.075, 2.078,
    2.080, 2.083, 2.085, 2.087, 2.090, 2.092, 2.095, 2.097,
    2.100, 2.102, 2.104, 2.107, 2.109, 2.111, 2.114, 2.116,
    2.118, 2.121, 2.123, 2.125, 2.127, 2.129, 2.132, 2.134,
    2.136, 2.138, 2.141, 2.143, 2.145, 2.147, 2.149, 2.151,
    2.154, 2.156, 2.158, 2.160, 2.162, 2.164, 2.166, 2.168,
    2.170, 2.172, 2.174, 2.176, 2.178, 2.180, 2.182, 2.184,
]
res_2w = [
    0.976, 0.976, 0.977, 0.978, 0.98, 0.983, 0.987, 0.992, 0.998, 1.005, 1.013, 1.022,
    1.032, 1.043, 1.054, 1.066, 1.078, 1.09, 1.103, 1.116, 1.129, 1.142, 1.156, 1.17,
    1.184, 1.198, 1.212, 1.226, 1.24, 1.254, 1.268, 1.282, 1.296, 1.31, 1.323, 1.336,
    1.349, 1.362, 1.375, 1.388, 1.401, 1.414, 1.427, 1.44, 1.453, 1.466, 1.479, 1.492,
    1.506, 1.52, 1.535, 1.551, 1.568, 1.586, 1.606, 1.627, 1.649, 1.672, 1.696, 1.721,
    1.747, 1.774, 1.802, 1.831, 1.861, 1.892, 1.924, 1.957, 1.991, 2.025, 2.06, 2.095,
    2.13, 2.166, 2.202, 2.238, 2.274, 2.309, 2.344, 2.378, 2.412, 2.445, 2.477, 2.508,
    2.538, 2.567, 2.595, 2.621, 2.646, 2.669, 2.69, 2.709, 2.726, 2.741, 2.758, 2.772,
    2.784, 2.793, 2.8, 2.805, 2.808, 2.808, 2.805, 2.8, 2.792, 2.782, 2.77, 2.756,
    2.74, 2.722, 2.703, 2.683,
]
res_1w = [
    1.617, 1.618, 1.619, 1.621, 1.623, 1.625, 1.628, 1.631, 1.635, 1.639, 1.644, 1.649,
    1.654, 1.66, 1.666, 1.672, 1.678, 1.685, 1.692, 1.699, 1.706, 1.713, 1.72, 1.727,
    1.734, 1.741, 1.748, 1.755, 1.762, 1.769, 1.776, 1.782, 1.788, 1.794, 1.8, 1.806,
    1.811, 1.816, 1.821, 1.826, 1.83, 1.834, 1.838, 1.842, 1.845, 1.848, 1.851, 1.854,
    1.856, 1.858, 1.86, 1.862, 1.864, 1.865, 1.866, 1.867,
]

# tick labels
imf_tick_dates = ["2019-10-21", "2019-10-25", "2019-10-29", "2019-11-01", "2019-11-05", "2019-11-09"]
imf_tick_text = ["2019\u221210\u221221", "2019\u221210\u221225", "2019\u221210\u221229",
                 "2019\u221211\u221201", "2019\u221211\u221205", "2019\u221211\u221209"]
swh_tick_dates = ["2019-11-04", "2019-11-05", "2019-11-06", "2019-11-07",
                  "2019-11-08", "2019-11-09", "2019-11-10", "2019-11-11"]
swh_tick_text = ["2019\u221211\u221204", "2019\u221211\u221205", "2019\u221211\u221206",
                 "2019\u221211\u221207", "2019\u221211\u221208", "2019\u221211\u221209",
                 "2019\u221211\u221210", "2019\u221211\u221211"]

# ---------------- figure ----------------
FONT = "Liberation Serif"
BLUE, RED, GREEN = "#0000ff", "#ff0000", "#008000"
LW = 1.2


def times(start, n, step_h):
    return pd.date_range(start, periods=n, freq=f"{step_h}h").strftime("%Y-%m-%d %H:%M").tolist()


fig = make_subplots(rows=8, cols=1, vertical_spacing=36 / 1372)

fig.add_trace(go.Scatter(x=times(START_1W, len(swh_1w), 1), y=swh_1w, mode="lines",
                         line=dict(color="black", width=LW), showlegend=False), row=1, col=1)

panels = [
    # row, 3-week, 2-week, 1-week series, step in hours, line shape
    (2, imf1_3w, imf1_2w, imf1_1w, 1, "linear"),
    (3, imf2_3w, imf2_2w, imf2_1w, 1, "spline"),
    (4, imf3_3w, imf3_2w, imf3_1w, 2, "spline"),
    (5, imf4_3w, imf4_2w, imf4_1w, 3, "spline"),
    (6, imf5_3w, imf5_2w, imf5_1w, 3, "spline"),
    (7, imf6_3w, None, None, 3, "spline"),
    (8, res_3w, res_2w, res_1w, 3, "spline"),
]

for row, s3, s2, s1, step, shape in panels:
    first = row == 2
    fig.add_trace(go.Scatter(x=times(START_3W, len(s3), step), y=s3, mode="lines", name="3 weeks",
                             line=dict(color=BLUE, width=LW, shape=shape),
                             showlegend=first, legendrank=1), row=row, col=1)
    if s2 is not None:
        fig.add_trace(go.Scatter(x=times(START_3W, len(s2), step), y=s2, mode="lines", name="2 weeks",
                                 line=dict(color=RED, width=LW, dash="3px,1.6px", shape=shape),
                                 showlegend=first, legendrank=2), row=row, col=1)
    if s1 is not None:
        fig.add_trace(go.Scatter(x=times(START_1W, len(s1), step), y=s1, mode="lines", name="1 week",
                                 line=dict(color=GREEN, width=LW, dash="6px,2px,1.5px,2px", shape=shape),
                                 showlegend=first, legendrank=3), row=row, col=1)

axis_common = dict(showline=True, mirror=True, linecolor="black", linewidth=1,
                   ticks="outside", ticklen=4, tickwidth=1, tickcolor="black",
                   showgrid=False, zeroline=False, automargin=False)

# x axes
fig.update_xaxes(row=1, col=1, range=["2019-11-03 09:39", "2019-11-11 01:21"],
                 tickvals=swh_tick_dates, ticktext=swh_tick_text, ticklabelstandoff=-5,
                 tickfont=dict(family=FONT, size=19, color="black"), **axis_common)
for row in range(2, 9):
    size = 13 if row in (6, 7) else 19
    standoff = -3 if row in (6, 7) else (-9 if row == 8 else -5)
    fig.update_xaxes(row=row, col=1, range=["2019-10-19 16:51", "2019-11-11 18:09"],
                     tickvals=imf_tick_dates, ticktext=imf_tick_text,
                     ticklabelstandoff=standoff,
                     tickfont=dict(family=FONT, size=size, color="black"), **axis_common)

# y axes
y_specs = [
    (1, "SWH (m)", [1.109, 3.655], [2, 3], ["2", "3"], 19),
    (2, "IMF 1", [-0.396, 0.333], [-0.25, 0, 0.25], ["\u22120.25", "0.00", "0.25"], 19),
    (3, "IMF 2", [-0.289, 0.489], [-0.25, 0, 0.25], ["\u22120.25", "0.00", "0.25"], 19),
    (4, "IMF 3", [-0.389, 0.583], [0, 0.5], ["0.0", "0.5"], 19),
    (5, "IMF 4", [-0.604, 0.717], [-0.5, 0, 0.5], ["\u22120.5", "0.0", "0.5"], 19),
    (6, "IMF 5", [-0.635, 0.823], [-0.5, 0, 0.5], ["\u22120.5", "0.0", "0.5"], 13),
    (7, "IMF 6", [-0.744, 0.657], [-0.5, 0, 0.5], ["\u22120.5", "0.0", "0.5"], 13),
    (8, "Residual", [0.886, 2.886], [1, 2], ["1", "2"], 19),
]
for row, label, rng, tv, tt, fs in y_specs:
    fig.update_yaxes(row=row, col=1, range=rng, tickvals=tv, ticktext=tt,
                     tickfont=dict(family=FONT, size=fs, color="black"),
                     title=dict(text=label, font=dict(family=FONT, size=24, color="black"), standoff=6),
                     **axis_common)

fig.add_annotation(text="Decomposition of 3 weeks for different set lenghts",
                   xref="paper", yref="paper", x=0.5, y=1.0, xanchor="center", yanchor="bottom",
                   yshift=-2, showarrow=False, font=dict(family=FONT, size=37, color="black"))

fig.update_layout(
    width=1200, height=1506,
    margin=dict(l=97, r=47, t=110, b=24, autoexpand=False),
    paper_bgcolor="white", plot_bgcolor="white",
    font=dict(family=FONT, color="black"),
    legend=dict(x=(1014 - 97) / 1056, y=(1506 - 24 - 6) / 1372, xanchor="left", yanchor="top",
                bordercolor="#cccccc", borderwidth=1, bgcolor="white", itemwidth=48,
                font=dict(family=FONT, size=18, color="black")),
)

fig.write_html("out.html")
